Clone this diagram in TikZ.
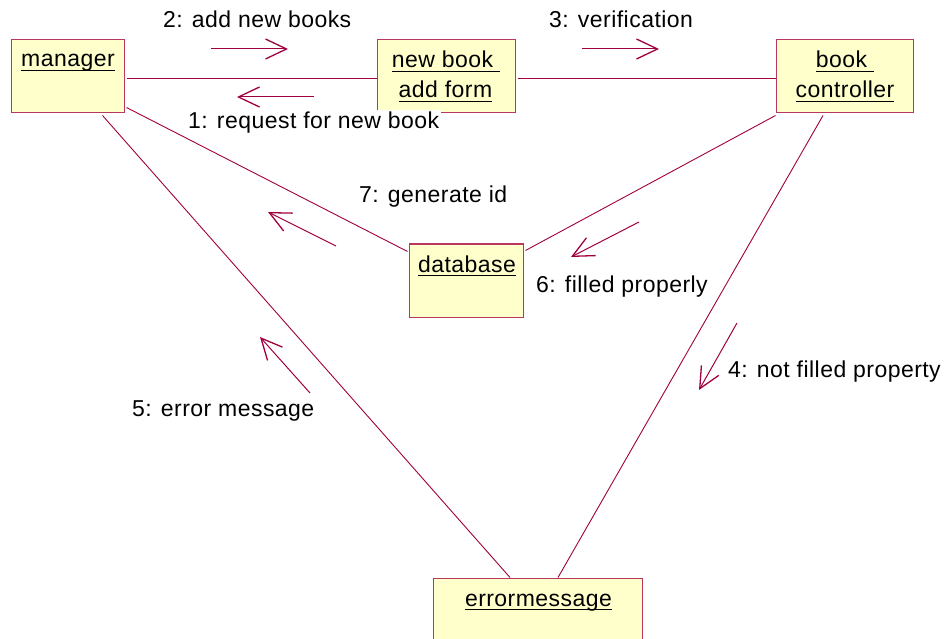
\documentclass[tikz,border=0pt]{standalone}
\usepackage{fontspec}
\setmainfont{Liberation Sans}[LetterSpace=2]
\usetikzlibrary{arrows.meta,calc}
\definecolor{umlline}{RGB}{160,0,64}
\definecolor{umlfill}{RGB}{255,255,204}
\definecolor{umlborder}{RGB}{185,55,95}
\newcommand{\myul}[1]{\setbox0\hbox{#1}\rlap{\rule[-4.3pt]{\wd0}{1.2pt}}\box0}
\begin{document}
\begin{tikzpicture}[x=1pt,y=-1pt,
  obj/.style={draw=umlborder,fill=umlfill,line width=1pt,rectangle,inner sep=0pt},
  link/.style={draw=umlline,line width=0.9pt},
  msg/.style={draw=umlline,line width=1pt,-{Straight Barb[length=21pt,width=20pt,line width=1.3pt]}},
  lbl/.style={font=\fontsize{23}{26}\selectfont,inner sep=0pt,anchor=base west},
  nm/.style={font=\fontsize{23}{26}\selectfont,inner sep=0pt,anchor=base}]
\useasboundingbox (0,0) rectangle (945,639);

% objects
\node[obj,minimum width=113pt,minimum height=73pt] (manager) at (67.5,76) {};
\node[obj,minimum width=138pt,minimum height=73pt] (newbook) at (446,76) {};
\node[obj,minimum width=137pt,minimum height=73pt] (ctrl) at (844.5,76) {};
\node[obj,minimum width=114pt,minimum height=73pt] (db) at (466,280.5) {};
\node[obj,minimum width=209pt,minimum height=72pt] (err) at (537.5,614) {};

\node[nm] (tmanager) at (68,67) {\myul{manager}};
\node[nm] (tnewbook1) at (446,68) {\myul{new book\ }};
\node[nm] (tnewbook2) at (445.5,98) {\myul{add form}};
\node[nm] (tctrl1) at (845,68) {\myul{book\ }};
\node[nm] (tctrl2) at (845,98) {\myul{controller}};
\node[nm] (tdb) at (467,272) {\myul{database}};
\node[nm] (terr) at (538.5,606) {\myul{errormessage}};

% links
\draw[link] ($(manager.east)+(2,2)$) -- ($(newbook.west)+(0,2)$);
\draw[link] ($(newbook.east)+(2,2)$) -- ($(ctrl.west)+(0,2)$);
\draw[link] ($(manager.south east)+(2,-5.5)$) -- ($(db.north west)+(-1,8)$);
\draw[link] ($(manager.south east)+(-22,2.5)$) -- ($(err.north)+(-27.5,0)$);
\draw[link] ($(ctrl.south west)+(0,2.5)$) -- ($(db.north east)+(2,7)$);
\draw[link] ($(ctrl.south)+(-21.5,2.5)$) -- ($(err.north)+(20.5,0)$);

% message arrows
\coordinate (m2s) at (211,49); \coordinate (m2e) at (288,49);
\coordinate (m1s) at (314,97); \coordinate (m1e) at (237,97);
\coordinate (m3s) at (582,49); \coordinate (m3e) at (659,49);
\coordinate (m7s) at (336,246); \coordinate (m7e) at (268,212);
\coordinate (m6s) at (639,222); \coordinate (m6e) at (571,257);
\coordinate (m5s) at (310,393); \coordinate (m5e) at (260,337);
\coordinate (m4s) at (737,323); \coordinate (m4e) at (699,390);
\draw[msg] (m2s) -- (m2e);
\draw[msg] (m1s) -- (m1e);
\draw[msg] (m3s) -- (m3e);
\draw[msg] (m7s) -- (m7e);
\draw[msg] (m6s) -- (m6e);
\draw[msg] (m5s) -- (m5e);
\draw[msg] (m4s) -- (m4e);

% labels
\node[lbl] (l2) at (163,28) {2: add new books};
\node[lbl] (l3) at (549,28) {3: verification};
\node[lbl,fill=white,inner sep=2pt] (l1) at (186,129) {1: request for new book};
\node[lbl] (l7) at (359,203) {7: generate id};
\node[lbl] (l6) at (536,292) {6: filled properly};
\node[lbl] (l5) at (132,416) {5: error message};
\node[lbl] (l4) at (728,377) {4: not filled property};
\end{tikzpicture}
\end{document}
